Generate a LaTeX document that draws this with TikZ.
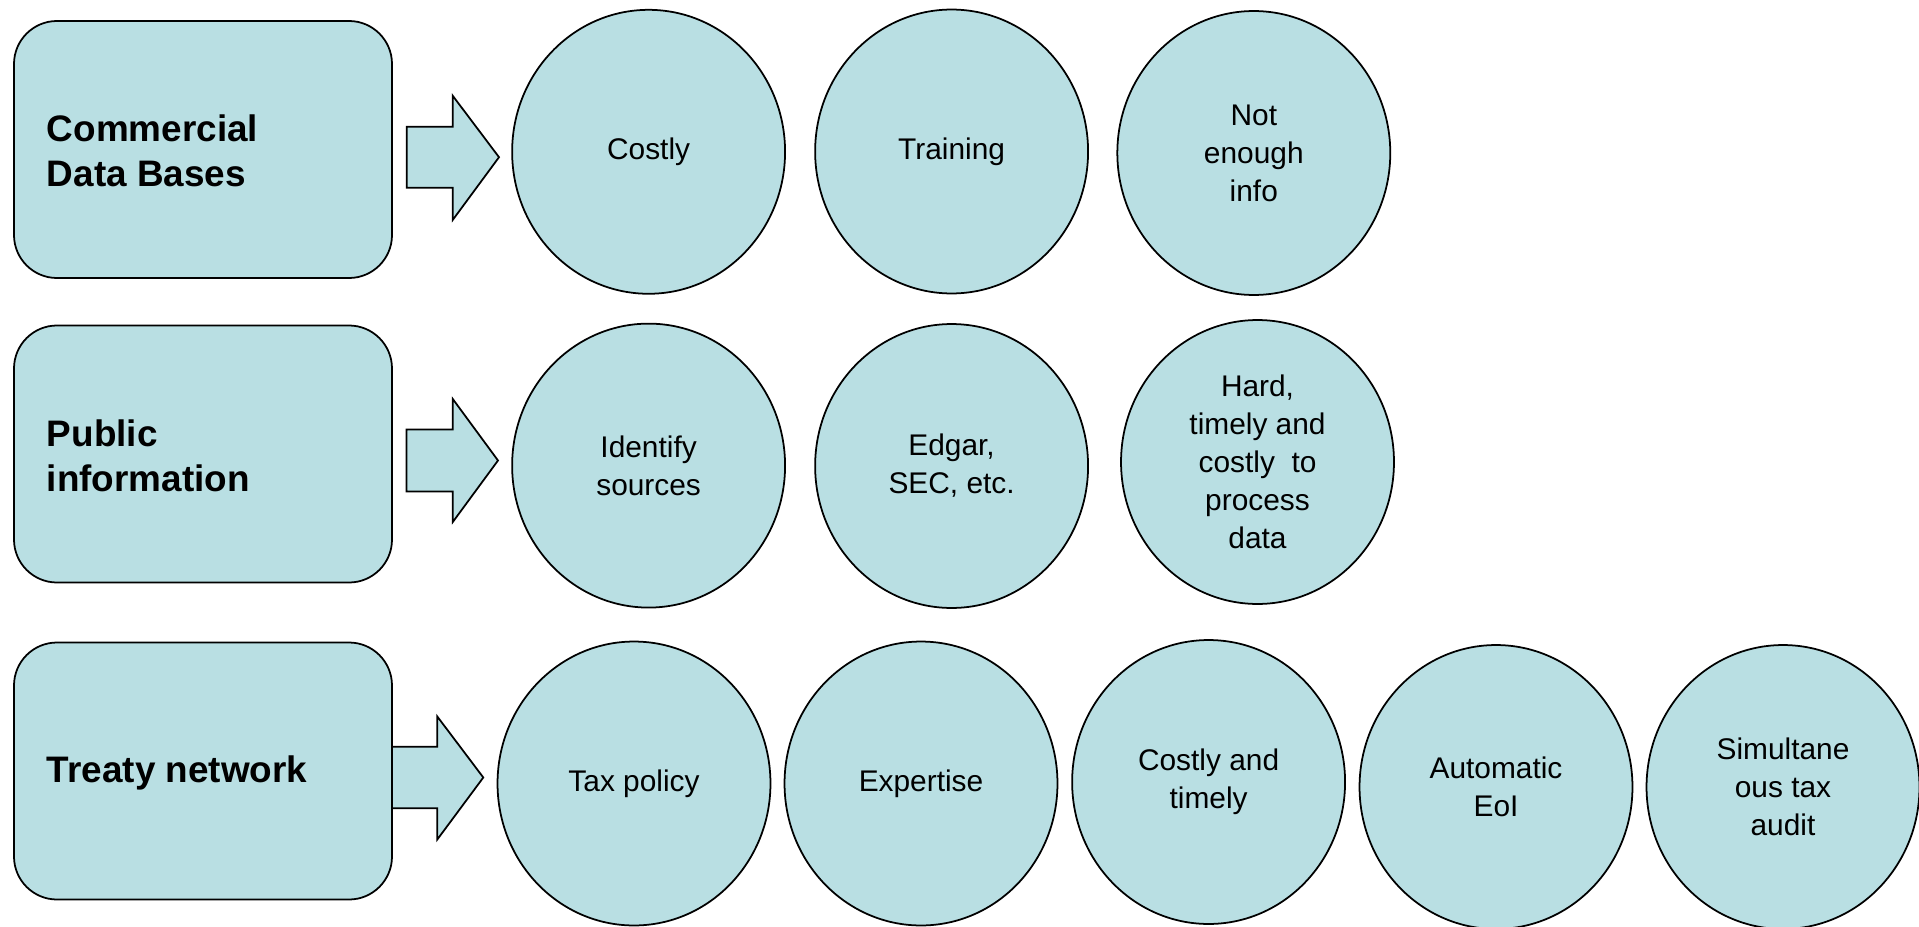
\documentclass[tikz,border=0pt]{standalone}
\usepackage{fontspec}
\setmainfont{Liberation Sans}
\usetikzlibrary{shapes.geometric}
\definecolor{tealfill}{RGB}{185,223,227}
\tikzset{
  x=0.02cm, y=-0.02cm,
  rowbox/.style={draw=black, line width=1pt, fill=tealfill, rounded corners=0.86cm},
  boxtext/.style={anchor=west, align=left, inner sep=0pt,
    font=\fontsize{21pt}{25.5pt}\selectfont\bfseries},
  bubble/.style={ellipse, draw=black, line width=1pt, fill=tealfill,
    minimum width=5.46cm, minimum height=5.68cm, inner sep=0pt, align=center,
    font=\fontsize{17pt}{21.6pt}\selectfont},
  blockarrow/.style={draw=black, line width=1pt, fill=tealfill, line join=miter}
}
\begin{document}
\begin{tikzpicture}
\useasboundingbox (0,0) rectangle (1919,926);
\clip (0,0) rectangle (1919,926);
\fill[white] (0,0) rectangle (1919,926);

% row 1: commercial data bases
\draw[rowbox] (14,21) rectangle (392,278);
\node[boxtext] (cdb) at (46.5,151) {Commercial\\Data Bases};
\draw[blockarrow] (406.7,126.7) -- (452.7,126.7) -- (452.7,95.7) -- (499,157.2)
  -- (452.7,220) -- (452.7,187.7) -- (406.7,187.7) -- cycle;
\node[bubble] (costly) at (648.6,151.8) {\raisebox{-3pt}{Costly}};
\node[bubble] (training) at (951.6,151.5) {Training};
\node[bubble] (notenough) at (1253.8,153) {Not\\enough\\info};

% row 2: public information
\draw[rowbox] (14,325.5) rectangle (392,582.5);
\node[boxtext] (pub) at (46.5,456) {Public\\information};
\draw[blockarrow] (406.5,429.6) -- (452.8,429.6) -- (452.8,399) -- (498,460.5)
  -- (452.8,522) -- (452.8,491.5) -- (406.5,491.5) -- cycle;
\node[bubble] (identify) at (648.6,465.6) {Identify\\sources};
\node[bubble] (edgar) at (951.6,466) {Edgar,\\SEC, etc.};
\node[bubble] (hard) at (1257.5,462) {Hard,\\timely and\\costly\ \ to\\process\\data};

% row 3: treaty network
\draw[rowbox] (14,642.5) rectangle (392,899.5);
\node[boxtext] (treaty) at (46.5,773) {Treaty network};
\draw[blockarrow] (392,746.7) -- (437.3,746.7) -- (437.3,716.5) -- (483.3,777.5)
  -- (437.3,839.5) -- (437.3,808.3) -- (392,808.3) -- cycle;
\node[bubble] (taxpolicy) at (634,783.5) {\raisebox{-2pt}{Tax policy}};
\node[bubble] (expertise) at (921,783.5) {\raisebox{-2pt}{Expertise}};
\node[bubble] (costlytimely) at (1208.6,782) {Costly and\\timely};
\node[bubble] (eoi) at (1496,787) {Automatic\\EoI};
\node[bubble] (audit) at (1783,787) {Simultane\\ous tax\\audit};
\end{tikzpicture}
\end{document}
